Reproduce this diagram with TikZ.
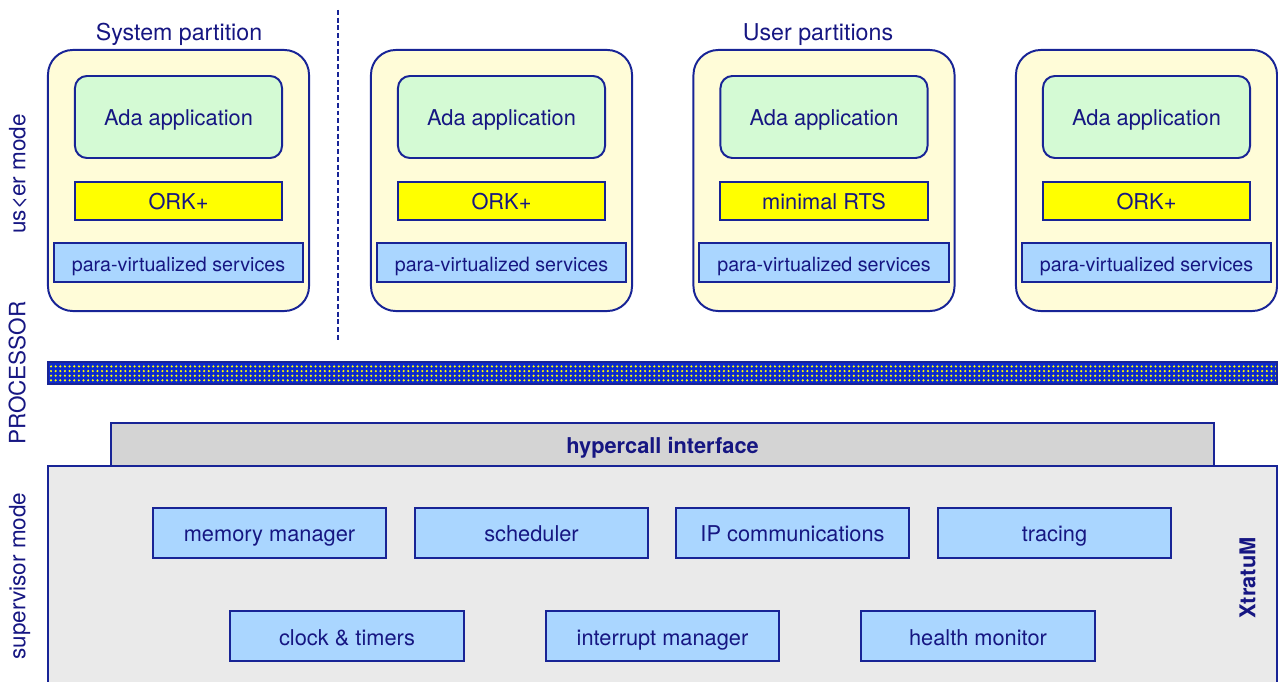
\documentclass[tikz,border=0pt]{standalone}
\usepackage{fontspec}
\setmainfont{TeX Gyre Heros}
\usetikzlibrary{patterns.meta}

\definecolor{darkline}{RGB}{24,36,150}
\definecolor{txtblue}{RGB}{22,22,130}
\definecolor{partfill}{RGB}{255,252,216}
\definecolor{appfill}{RGB}{212,250,212}
\definecolor{rtsfill}{RGB}{255,255,0}
\definecolor{svcfill}{RGB}{170,214,255}
\definecolor{hcfill}{RGB}{212,212,212}
\definecolor{xmfill}{RGB}{234,234,234}
\definecolor{cpublue}{RGB}{12,42,205}

\begin{document}
\begin{tikzpicture}[x=0.025cm, y=-0.025cm, line width=1.4pt, text=txtblue,
    font=\fontsize{15.5}{18}\selectfont, text height=1.36em, text depth=0.08em,
    partition/.style={draw=darkline, fill=partfill, rounded corners=0.62cm,
        minimum width=6.525cm, minimum height=6.525cm},
    appbox/.style={draw=darkline, fill=appfill, rounded corners=0.3cm,
        minimum width=5.175cm, minimum height=2.05cm},
    rtsbox/.style={draw=darkline, fill=rtsfill, minimum width=5.175cm, minimum height=0.95cm},
    pvbox/.style={draw=darkline, fill=svcfill, minimum width=6.225cm, minimum height=0.975cm,
        font=\fontsize{14}{16}\selectfont},
    svcbox/.style={draw=darkline, fill=svcfill, minimum width=5.825cm, minimum height=1.25cm},
    titletext/.style={font=\fontsize{16.5}{19}\selectfont},
    modelabel/.style={rotate=90, font=\fontsize{16}{18}\selectfont, text height=1em}]
    \clip (0,0) rectangle (1278,682);

    % titles
    \node[titletext] (systitle) at (179, 32) {System partition};
    \node[titletext] (usrtitle) at (818, 32) {User partitions};
    \draw[darkline, line width=1pt, dash pattern=on 3.5pt off 2pt] (338, 10) -- (338, 340);

    % mode labels
    \node[modelabel] (usermode) at (19, 174) {us<er mode};
    \node[modelabel] (proclabel) at (19, 373) {PROCESSOR};
    \node[modelabel] (supmode) at (19, 576) {supervisor mode};

    % partitions
    \node[partition] (part1) at (178.5, 180.5) {};
    \node[appbox] (app1) at (178.5, 117) {Ada application};
    \node[rtsbox] (rts1) at (178.5, 201) {ORK+};
    \node[pvbox] (pv1) at (178.5, 262.5) {para-virtualized services};

    \node[partition] (part2) at (501.5, 180.5) {};
    \node[appbox] (app2) at (501.5, 117) {Ada application};
    \node[rtsbox] (rts2) at (501.5, 201) {ORK+};
    \node[pvbox] (pv2) at (501.5, 262.5) {para-virtualized services};

    \node[partition] (part3) at (824, 180.5) {};
    \node[appbox] (app3) at (824, 117) {Ada application};
    \node[rtsbox] (rts3) at (824, 201) {minimal RTS};
    \node[pvbox] (pv3) at (824, 262.5) {para-virtualized services};

    \node[partition] (part4) at (1146.5, 180.5) {};
    \node[appbox] (app4) at (1146.5, 117) {Ada application};
    \node[rtsbox] (rts4) at (1146.5, 201) {ORK+};
    \node[pvbox] (pv4) at (1146.5, 262.5) {para-virtualized services};

    % processor
    \node[draw=darkline, preaction={fill=cpublue}, pattern={Dots[distance=3.3pt, radius=0.85pt]},
        pattern color=yellow, inner sep=0pt, text height=0pt, text depth=0pt,
        minimum width=30.725cm, minimum height=0.55cm] (cpu) at (662.5, 373) {};

    % hypervisor
    \node[draw=darkline, fill=hcfill, minimum width=27.575cm, minimum height=1.075cm,
        font=\fontsize{15.5}{18}\selectfont\bfseries] (hcall) at (662.5, 444.5) {hypercall interface};
    \node[draw=darkline, fill=xmfill, minimum width=30.725cm, minimum height=5.6cm] (xm) at (662.5, 578) {};
    \node[rotate=90, font=\fontsize{15.5}{18}\selectfont\bfseries, text height=1em] (xmlabel) at (1249, 578) {XtratuM};

    \node[svcbox] (mem) at (269.5, 533) {memory manager};
    \node[svcbox] (sched) at (531.5, 533) {scheduler};
    \node[svcbox] (ipc) at (792.5, 533) {IP communications};
    \node[svcbox] (trace) at (1054.5, 533) {tracing};

    \node[svcbox] (clock) at (347, 636) {clock \& timers};
    \node[svcbox] (irq) at (662.5, 636) {interrupt manager};
    \node[svcbox] (hm) at (978, 636) {health monitor};
\end{tikzpicture}
\end{document}
